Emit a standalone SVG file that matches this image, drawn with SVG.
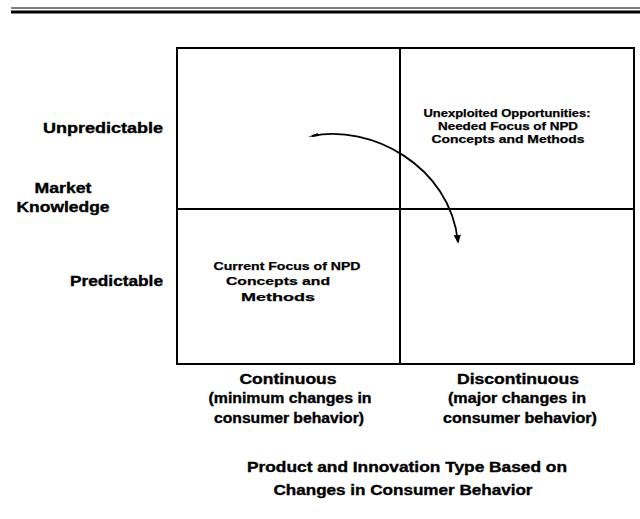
<svg xmlns="http://www.w3.org/2000/svg" width="640" height="519" viewBox="0 0 640 519">
<defs>
<style>
.t{font-family:"Liberation Sans",Arial,sans-serif;font-weight:bold;fill:#000;stroke:#000;stroke-width:0.35}
.lbl{font-size:14px}
.sm{font-size:11px;text-anchor:middle;stroke-width:0.25}
.ax{font-size:14px;text-anchor:middle}
.ln{stroke:#000;fill:none}
</style>
<marker id="ah" viewBox="0 0 10 10" refX="8" refY="5" markerWidth="5" markerHeight="6" orient="auto">
<path d="M0,1 L10,5 L0,9 Z" fill="#000"/>
</marker>
</defs>
<rect width="640" height="519" fill="#fff"/>
<g id="rule">
<line class="ln" x1="11" y1="8" x2="640" y2="8" stroke-width="1.2"/>
<line class="ln" x1="11" y1="12" x2="640" y2="12" stroke-width="3"/>
</g>
<g id="grid">
<rect class="ln" x="177" y="48" width="457" height="316" stroke-width="2"/>
<line class="ln" x1="400" y1="48" x2="400" y2="364" stroke-width="2"/>
<line class="ln" x1="177" y1="209" x2="634" y2="209" stroke-width="2"/>
</g>
<g id="y-axis">
<text class="t lbl" x="163" y="133" text-anchor="end" textLength="120" lengthAdjust="spacingAndGlyphs">Unpredictable</text>
<text class="t lbl" x="63" y="193" text-anchor="middle" textLength="57" lengthAdjust="spacingAndGlyphs">Market</text>
<text class="t lbl" x="63" y="212" text-anchor="middle" textLength="93" lengthAdjust="spacingAndGlyphs">Knowledge</text>
<text class="t lbl" x="163" y="286" text-anchor="end" textLength="93" lengthAdjust="spacingAndGlyphs">Predictable</text>
</g>
<g id="q-upper-right">
<text class="t sm" x="507" y="117" textLength="167" lengthAdjust="spacingAndGlyphs">Unexploited Opportunities:</text>
<text class="t sm" x="508" y="130" textLength="140" lengthAdjust="spacingAndGlyphs">Needed Focus of NPD</text>
<text class="t sm" x="508" y="143" textLength="153" lengthAdjust="spacingAndGlyphs">Concepts and Methods</text>
</g>
<g id="q-lower-left">
<text class="t sm" x="287" y="270" textLength="147" lengthAdjust="spacingAndGlyphs">Current Focus of NPD</text>
<text class="t sm" x="278" y="285" textLength="104" lengthAdjust="spacingAndGlyphs">Concepts and</text>
<text class="t sm" x="278" y="301" textLength="74" lengthAdjust="spacingAndGlyphs">Methods</text>
</g>
<g id="x-continuous">
<text class="t ax" x="288" y="384" textLength="97" lengthAdjust="spacingAndGlyphs">Continuous</text>
<text class="t ax" x="290" y="403" textLength="163" lengthAdjust="spacingAndGlyphs">(minimum changes in</text>
<text class="t ax" x="289" y="423" textLength="150" lengthAdjust="spacingAndGlyphs">consumer behavior)</text>
</g>
<g id="x-discontinuous">
<text class="t ax" x="518" y="384" textLength="122" lengthAdjust="spacingAndGlyphs">Discontinuous</text>
<text class="t ax" x="517" y="403" textLength="138" lengthAdjust="spacingAndGlyphs">(major changes in</text>
<text class="t ax" x="520" y="423" textLength="154" lengthAdjust="spacingAndGlyphs">consumer behavior)</text>
</g>
<g id="caption">
<text class="t ax" x="407" y="472" textLength="320" lengthAdjust="spacingAndGlyphs">Product and Innovation Type Based on</text>
<text class="t ax" x="403" y="495" textLength="259" lengthAdjust="spacingAndGlyphs">Changes in Consumer Behavior</text>
</g>
<g id="connectors">
<path class="ln" d="M312,136 C370,124 450,165 458,242" stroke-width="1.8" marker-end="url(#ah)"/>
<path d="M308,137 L318,133 L318,136 Z" fill="#000"/>
</g>
</svg>
